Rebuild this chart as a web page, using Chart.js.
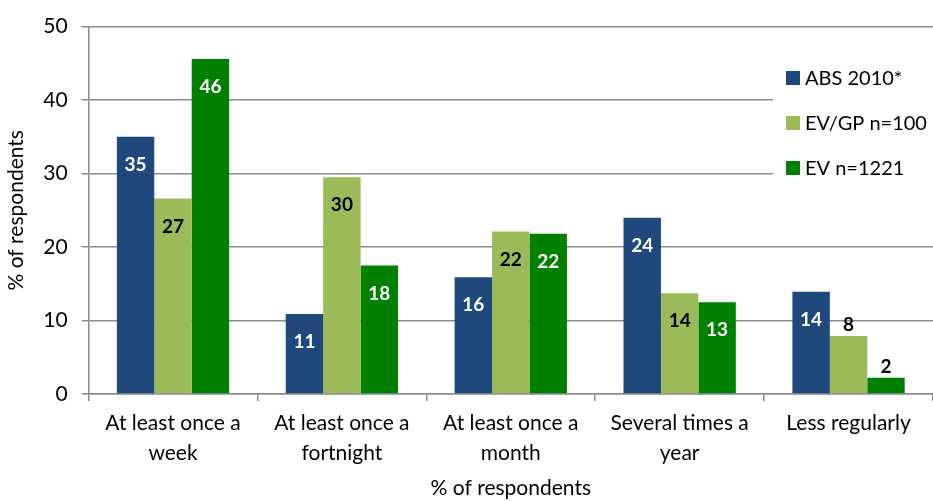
<!DOCTYPE html>
<html>
<head>
<meta charset="utf-8">
<title>% of respondents</title>
<script src="https://cdn.jsdelivr.net/npm/chart.js@4.4.0/dist/chart.umd.min.js"></script>
<style>
  html, body { margin: 0; padding: 0; background: #fff; }
  #wrap { width: 933px; height: 501px; position: relative; }
</style>
</head>
<body>
<div id="wrap">
  <canvas id="myChart" width="933" height="501"></canvas>
</div>
<script type="text/javascript">
  // categories (two-line labels under the axis)
  var categories = [
    ["At least once a", "week"],
    ["At least once a", "fortnight"],
    ["At least once a", "month"],
    ["Several times a", "year"],
    ["Less regularly"]
  ];
  var seriesNames = ["ABS 2010*", "EV/GP n=100", "EV n=1221"];
  var absValues  = [35.0, 10.9, 15.9, 24.0, 13.9];
  var evgpValues = [26.6, 29.5, 22.1, 13.7, 7.9];
  var evValues   = [45.6, 17.5, 21.8, 12.5, 2.2];
  var yTicks = [0, 10, 20, 30, 40, 50];

  var colors = ["#1F497D", "#9BBB59", "#008000"];
  var labelColors = ["#ffffff", "#000000", "#ffffff"];
  var FONT = "Lato, 'Open Sans', sans-serif";
  var gridGray = "#8c8c8c";

  // value labels: inside the top of the bar, or just above it for short bars
  var valueLabels = {
    id: 'valueLabels',
    afterDatasetsDraw: function(chart) {
      var ctx = chart.ctx;
      ctx.save();
      ctx.font = "bold 19px " + FONT;
      ctx.textAlign = "center";
      ctx.textBaseline = "middle";
      chart.data.datasets.forEach(function(ds, i) {
        var meta = chart.getDatasetMeta(i);
        meta.data.forEach(function(bar, j) {
          var v = ds.data[j];
          var txt = String(Math.round(v));
          if (v < 10) {
            ctx.fillStyle = "#000";
            ctx.fillText(txt, bar.x, bar.y - 11);
          } else {
            ctx.fillStyle = labelColors[i];
            ctx.fillText(txt, bar.x, bar.y + 28);
          }
        });
      });
      ctx.restore();
    }
  };

  // legend box sitting over the top-right of the plot
  var boxLegend = {
    id: 'boxLegend',
    afterDraw: function(chart) {
      var ctx = chart.ctx;
      ctx.save();
      ctx.fillStyle = "#fff";
      ctx.fillRect(773, 45, 160, 150);
      ctx.font = "20px " + FONT;
      ctx.textAlign = "left";
      ctx.textBaseline = "middle";
      chart.data.datasets.forEach(function(ds, i) {
        var cy = 78 + i * 45;
        ctx.fillStyle = ds.backgroundColor;
        ctx.fillRect(786, cy - 7, 14, 14);
        ctx.fillStyle = "#000";
        ctx.fillText(ds.label, 805, cy + 1);
      });
      ctx.restore();
    }
  };

  var ctx = document.getElementById('myChart').getContext('2d');
  var chart = new Chart(ctx, {
    type: 'bar',
    data: {
      labels: categories,
      datasets: [
        { label: seriesNames[0], data: absValues,  backgroundColor: colors[0] },
        { label: seriesNames[1], data: evgpValues, backgroundColor: colors[1] },
        { label: seriesNames[2], data: evValues,   backgroundColor: colors[2] }
      ]
    },
    options: {
      responsive: false,
      animation: false,
      devicePixelRatio: 1,
      layout: { padding: { top: 11, right: 0, left: 4, bottom: 0 } },
      datasets: {
        bar: { categoryPercentage: 0.665, barPercentage: 1.0, borderWidth: 0 }
      },
      plugins: {
        legend: { display: false },
        tooltip: { enabled: false }
      },
      scales: {
        x: {
          offset: true,
          grid: {
            offset: true,
            drawOnChartArea: false,
            drawTicks: true,
            tickLength: 7,
            color: gridGray,
            lineWidth: 1.5
          },
          border: { color: gridGray, width: 1.5 },
          ticks: {
            color: "#000",
            font: { family: FONT, size: 21, lineHeight: 1.4 },
            padding: 8,
            maxRotation: 0,
            autoSkip: false
          },
          title: {
            display: true,
            text: "% of respondents",
            color: "#000",
            font: { family: FONT, size: 21 },
            padding: { top: 0, bottom: 0 }
          }
        },
        y: {
          min: 0,
          max: 50,
          afterBuildTicks: function(axis) {
            axis.ticks = yTicks.map(function(v) { return { value: v }; });
          },
          grid: {
            color: gridGray,
            lineWidth: 1.5,
            tickLength: 7
          },
          border: { color: gridGray, width: 1.5 },
          ticks: {
            color: "#000",
            font: { family: FONT, size: 21 },
            padding: 14
          },
          title: {
            display: true,
            text: "% of respondents",
            color: "#000",
            font: { family: FONT, size: 21 },
            padding: { top: 0, bottom: 0 }
          }
        }
      }
    },
    plugins: [valueLabels, boxLegend]
  });
</script>
</body>
</html>
